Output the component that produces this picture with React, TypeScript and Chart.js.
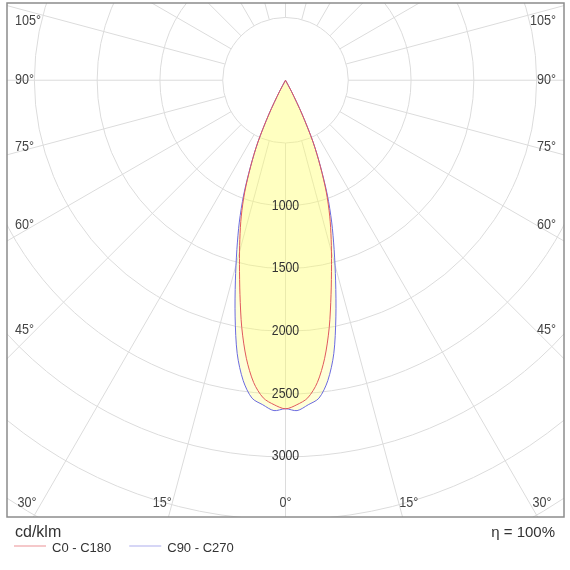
import { useEffect, useRef } from 'react'
import { Chart, registerables } from 'chart.js'

Chart.register(...registerables)

// polar angles (deg from nadir) and luminous intensity, cd/klm
const GAMMA = [0, 2, 4, 6, 8, 10, 12, 14, 16, 18, 20, 22, 24, 26, 28, 30]
const C0_C180 = [2621, 2590, 2540, 2425, 2240, 2005, 1745, 1515, 1320, 1140, 950, 740, 540, 300, 100, 0]
const C90_C270 = [2620, 2637, 2595, 2550, 2420, 2215, 1930, 1650, 1405, 1190, 975, 745, 540, 300, 100, 0]
const SERIES_LABELS = ['C0 - C180', 'C90 - C270']

const RING_STEP = 500
const RING_MAX = 5000
const RING_LABELS = [1000, 1500, 2000, 2500, 3000]
const RADIAL_STEP = 15
const SIDE_ANGLES = [105, 90, 75, 60, 45]
const BOTTOM_ANGLES = [30, 15, 0]
const UNIT = 'cd/klm'
const EFFICIENCY = 'η = 100%'

const SANS = '"Liberation Sans", Arial, sans-serif'

const toXY = (values: number[]) => {
  const pts: { x: number; y: number }[] = []
  for (let i = GAMMA.length - 1; i >= 0; i--) {
    const a = (GAMMA[i] * Math.PI) / 180
    pts.push({ x: -values[i] * Math.sin(a), y: values[i] * Math.cos(a) })
  }
  for (let i = 1; i < GAMMA.length; i++) {
    const a = (GAMMA[i] * Math.PI) / 180
    pts.push({ x: values[i] * Math.sin(a), y: values[i] * Math.cos(a) })
  }
  return pts
}

// narrow text: regular face squeezed horizontally
const narrowText = (ctx: CanvasRenderingContext2D, text: string, x: number, y: number, align: CanvasTextAlign, sq = 0.84) => {
  ctx.save()
  ctx.translate(x, y)
  ctx.scale(sq, 1)
  ctx.textAlign = align
  ctx.fillText(text, 0, 0)
  ctx.restore()
}

const polarGrid = {
  id: 'polarGrid',
  beforeDraw(chart: any) {
    const { ctx, chartArea: area, scales } = chart
    const cx = scales.x.getPixelForValue(0)
    const cy = scales.y.getPixelForValue(0)
    const k = scales.x.getPixelForValue(1000) - cx
    ctx.save()
    ctx.beginPath()
    ctx.rect(area.left, area.top, area.right - area.left, area.bottom - area.top)
    ctx.clip()
    ctx.strokeStyle = '#dcdcdc'
    ctx.lineWidth = 1
    for (let v = RING_STEP; v <= RING_MAX; v += RING_STEP) {
      ctx.beginPath()
      ctx.arc(cx, cy, (v * k) / 1000, 0, Math.PI * 2)
      ctx.stroke()
    }
    const r0 = (RING_STEP * k) / 1000
    for (let g = 0; g < 360; g += RADIAL_STEP) {
      const a = (g * Math.PI) / 180
      ctx.beginPath()
      ctx.moveTo(cx + r0 * Math.sin(a), cy + r0 * Math.cos(a))
      ctx.lineTo(cx + 900 * Math.sin(a), cy + 900 * Math.cos(a))
      ctx.stroke()
    }
    ctx.restore()
  },
  afterDatasetsDraw(chart: any) {
    const { ctx, scales } = chart
    const cx = scales.x.getPixelForValue(0)
    ctx.save()
    ctx.fillStyle = '#333333'
    ctx.font = '15px ' + SANS
    ctx.textBaseline = 'middle'
    RING_LABELS.forEach(v => {
      narrowText(ctx, String(v), cx, scales.y.getPixelForValue(v), 'center', 0.82)
    })
    ctx.restore()
  },
  afterDraw(chart: any) {
    const { ctx, chartArea: area, scales } = chart
    const cx = scales.x.getPixelForValue(0)
    const cy = scales.y.getPixelForValue(0)
    ctx.save()
    ctx.strokeStyle = '#8c8c8c'
    ctx.lineWidth = 1.5
    ctx.strokeRect(area.left, area.top, area.right - area.left, area.bottom - area.top)

    ctx.fillStyle = '#444444'
    ctx.font = '15px ' + SANS
    ctx.textBaseline = 'middle'
    SIDE_ANGLES.forEach(g => {
      const a = (g * Math.PI) / 180
      let y = cy + (250 * Math.cos(a)) / Math.sin(a)
      y = Math.max(y, area.top + 18)
      narrowText(ctx, g + '°', area.left + 8, y, 'left')
      narrowText(ctx, g + '°', area.right - 8, y, 'right')
    })
    BOTTOM_ANGLES.forEach(g => {
      const dx = 460 * Math.tan((g * Math.PI) / 180)
      const y = area.bottom - 14
      const xs = g === 0 ? [cx] : [cx - dx, cx + dx]
      xs.forEach(x => {
        const xx = Math.min(Math.max(x, area.left + 20), area.right - 22)
        narrowText(ctx, g + '°', xx, y, 'center')
      })
    })

    ctx.fillStyle = '#333333'
    ctx.textBaseline = 'alphabetic'
    ctx.font = '16px ' + SANS
    ctx.textAlign = 'left'
    ctx.fillText(UNIT, area.left + 8, area.bottom + 20)
    ctx.font = '15px ' + SANS
    ctx.textAlign = 'right'
    ctx.fillText(EFFICIENCY, area.right - 9, area.bottom + 20)

    ctx.font = '13px ' + SANS
    ctx.textAlign = 'left'
    let x = area.left + 7
    const ly = area.bottom + 29
    chart.data.datasets.forEach((ds: any) => {
      ctx.save()
      ctx.globalAlpha = 0.55
      ctx.strokeStyle = ds.borderColor
      ctx.lineWidth = 1.2
      ctx.beginPath()
      ctx.moveTo(x, ly)
      ctx.lineTo(x + 32, ly)
      ctx.stroke()
      ctx.restore()
      ctx.fillText(ds.label, x + 38, ly + 6)
      x += 38 + ctx.measureText(ds.label).width + 18
    })
    ctx.restore()
  },
}

const App = () => {
  const chartRef = useRef<HTMLCanvasElement>(null)
  const chartInstance = useRef<Chart | null>(null)

  useEffect(() => {
    document.body.style.margin = '0'
    if (!chartRef.current) return
    if (chartInstance.current) chartInstance.current.destroy()

    chartInstance.current = new Chart(chartRef.current, {
      type: 'scatter',
      data: {
        datasets: [
          {
            label: SERIES_LABELS[0],
            data: toXY(C0_C180),
            showLine: true,
            borderColor: '#e0585c',
            backgroundColor: 'rgba(255, 255, 100, 0.2)',
            borderWidth: 1,
            pointRadius: 0,
            tension: 0.3,
            fill: 'shape',
          },
          {
            label: SERIES_LABELS[1],
            data: toXY(C90_C270),
            showLine: true,
            borderColor: '#6a6ae0',
            backgroundColor: 'rgba(255, 255, 100, 0.25)',
            borderWidth: 1,
            pointRadius: 0,
            tension: 0.3,
            fill: 'shape',
          },
        ],
      },
      options: {
        responsive: false,
        animation: false,
        events: [],
        layout: { padding: { left: 7, right: 6, top: 3, bottom: 53 } },
        scales: {
          x: { type: 'linear', min: -2218, max: 2218, display: false },
          y: { type: 'linear', min: -616, max: 3484, reverse: true, display: false },
        },
        plugins: {
          legend: { display: false },
          tooltip: { enabled: false },
          filler: { drawTime: 'beforeDatasetsDraw' },
        },
      } as any,
      plugins: [polarGrid],
    })

    return () => {
      if (chartInstance.current) {
        chartInstance.current.destroy()
        chartInstance.current = null
      }
    }
  }, [])

  return (
    <div style={{ width: 570, height: 570, background: '#fff' }}>
      <canvas ref={chartRef} width={570} height={570} style={{ display: 'block' }} />
    </div>
  )
}

export default App
